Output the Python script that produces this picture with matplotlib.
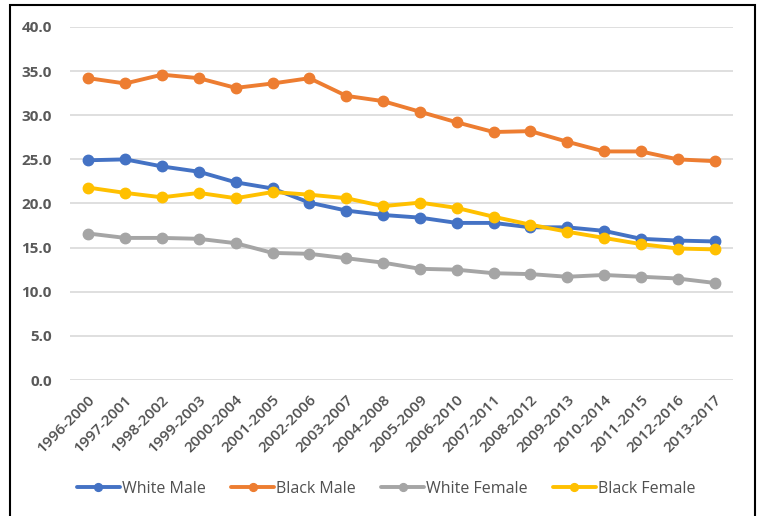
import matplotlib
matplotlib.use("Agg")
import matplotlib.pyplot as plt
from matplotlib.patches import Rectangle

periods = ["1996-2000", "1997-2001", "1998-2002", "1999-2003", "2000-2004", "2001-2005",
           "2002-2006", "2003-2007", "2004-2008", "2005-2009", "2006-2010", "2007-2011",
           "2008-2012", "2009-2013", "2010-2014", "2011-2015", "2012-2016", "2013-2017"]
white_male = [24.9, 25.0, 24.2, 23.6, 22.4, 21.7, 20.1, 19.2, 18.7, 18.4, 17.8, 17.8,
              17.3, 17.3, 16.9, 16.0, 15.8, 15.7]
black_male = [34.2, 33.6, 34.6, 34.2, 33.1, 33.6, 34.2, 32.2, 31.6, 30.4, 29.2, 28.1,
              28.2, 27.0, 25.9, 25.9, 25.0, 24.8]
white_female = [16.6, 16.1, 16.1, 16.0, 15.5, 14.4, 14.3, 13.8, 13.3, 12.6, 12.5, 12.1,
                12.0, 11.7, 11.9, 11.7, 11.5, 11.0]
black_female = [21.8, 21.2, 20.7, 21.2, 20.6, 21.3, 21.0, 20.6, 19.7, 20.1, 19.5, 18.5,
                17.6, 16.8, 16.1, 15.4, 14.9, 14.8]

series = [("White Male", white_male, "#4472C4"),
          ("Black Male", black_male, "#ED7D31"),
          ("White Female", white_female, "#A5A5A5"),
          ("Black Female", black_female, "#FFC000")]

plt.rcParams['font.family'] = ['Open Sans', 'DejaVu Sans']

fig = plt.figure(figsize=(7.59, 5.16), dpi=100)
ax = fig.add_axes([70/759, 1-380/516, (733-70)/759, (380-27)/516])

x = list(range(len(periods)))
for name, vals, col in series:
    ax.plot(x, vals, color=col, lw=2.8, marker='o', markersize=7.5, label=name,
            solid_capstyle='round')

ax.set_xlim(-0.5, len(periods) - 0.5)
ax.set_ylim(0, 40)
yt = [0, 5, 10, 15, 20, 25, 30, 35, 40]
ax.set_yticks(yt)
ax.set_yticklabels([f"{v:.1f}" for v in yt], fontsize=11, color="#595959",
                   fontweight='bold')
ax.set_xticks(x)
ax.set_xticklabels(periods, rotation=45, ha='right', rotation_mode='anchor',
                   fontsize=11, color="#505050", fontweight='semibold')
ax.tick_params(axis='both', length=0)
ax.tick_params(axis='y', pad=13)
ax.tick_params(axis='x', pad=9)
ax.grid(axis='y', color="#D9D9D9", lw=1.2)
ax.set_axisbelow(True)
for s in ax.spines.values():
    s.set_visible(False)

leg = fig.legend(loc='center', bbox_to_anchor=(386/759, 1-489/516), ncol=4,
                 frameon=False, fontsize=11.5, handlelength=2.7, columnspacing=1.6,
                 handletextpad=0.1, markerscale=0.75)
for t in leg.get_texts():
    t.set_color("#505050")

fig.patches.append(Rectangle((10/759, -0.05), (755-10)/759, 1.05 - 5/516,
                             transform=fig.transFigure, fill=False, ec='black', lw=1.5))

fig.savefig("out.png", dpi=100)
